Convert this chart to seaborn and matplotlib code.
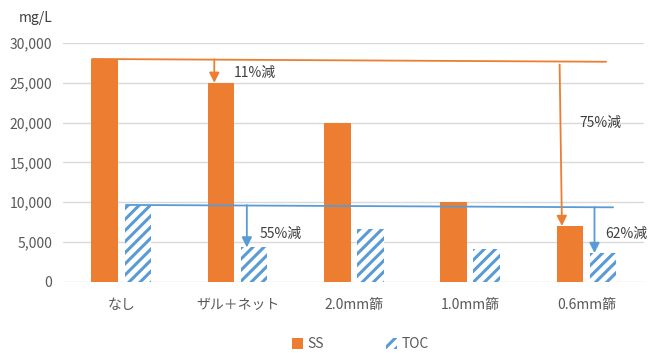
import pandas as pd
import matplotlib.pyplot as plt
import seaborn as sns
from matplotlib.patches import Patch

# data
categories = ['なし', 'ザル＋ネット', '2.0mm篩', '1.0mm篩', '0.6mm篩']
ss_values = [28000, 25000, 20000, 10000, 7000]
toc_values = [9600, 4300, 6600, 4100, 3600]
series = ['SS', 'TOC']
colors = {'SS': '#ED7D31', 'TOC': '#5B9BD5'}

df = pd.DataFrame({
    'cat': categories * 2,
    'series': ['SS'] * 5 + ['TOC'] * 5,
    'value': ss_values + toc_values,
})

sns.set_style('white')
plt.rcParams['font.family'] = ['Noto Sans CJK JP', 'DejaVu Sans']
plt.rcParams['hatch.linewidth'] = 2.2

fig = plt.figure(figsize=(6.51, 3.53), dpi=100)
ax = fig.add_axes([0.097, 0.202, 0.893, 0.676])

sns.barplot(data=df, x='cat', y='value', hue='series', palette=colors,
            width=0.57, gap=0.2, legend=False, ax=ax, saturation=1)

# TOC bars: white with blue diagonal hatch
for bar in ax.containers[1]:
    bar.set_facecolor('white')
    bar.set_edgecolor(colors['TOC'])
    bar.set_hatch('///')
    bar.set_linewidth(0)
for bar in ax.containers[0]:
    bar.set_linewidth(0)

ax.set_ylim(0, 30000)
ax.set_xlim(-0.5, 4.5)
ax.set_yticks(range(0, 30001, 5000))
ax.set_yticklabels([f'{v:,}' for v in range(0, 30001, 5000)])
ax.yaxis.grid(True, color='#d9d9d9', lw=1)
ax.set_axisbelow(True)
for s in ax.spines.values():
    s.set_visible(False)
ax.tick_params(axis='both', length=0, colors='#595959', labelsize=10)
ax.tick_params(axis='x', pad=12)
ax.tick_params(axis='y', pad=8)
ax.set_xlabel('')
ax.set_ylabel('')

# reduction lines and arrows
oc = colors['SS']
bc = colors['TOC']
ax.plot([-0.25, 4.17], [28000, 27650], color=oc, lw=1.3, zorder=4)
ax.plot([0.04, 4.23], [9650, 9350], color=bc, lw=1.3, zorder=4)

arrow_o = dict(arrowstyle='-|>', color=oc, lw=1.3, mutation_scale=15, shrinkA=0, shrinkB=0)
arrow_b = dict(arrowstyle='-|>', color=bc, lw=1.3, mutation_scale=15, shrinkA=0, shrinkB=0)
ax.annotate('', xy=(0.8, 25000), xytext=(0.8, 27950), arrowprops=arrow_o, zorder=5)
ax.annotate('', xy=(3.79, 7000), xytext=(3.77, 27300), arrowprops=arrow_o, zorder=5)
ax.annotate('', xy=(1.08, 4300), xytext=(1.08, 9620), arrowprops=arrow_b, zorder=5)
ax.annotate('', xy=(4.07, 3600), xytext=(4.07, 9370), arrowprops=arrow_b, zorder=5)

tc = '#404040'
ax.text(0.97, 26300, '11%減', color=tc, fontsize=10, va='center')
ax.text(3.94, 20000, '75%減', color=tc, fontsize=10, va='center')
ax.text(1.19, 6000, '55%減', color=tc, fontsize=10, va='center')
ax.text(4.16, 6000, '62%減', color=tc, fontsize=10, va='center')

fig.text(0.055, 0.95, 'mg/L', color='#404040', fontsize=10, ha='center', va='center')

handles = [Patch(facecolor=oc, edgecolor='none', label='SS'),
           Patch(facecolor='white', edgecolor=bc, hatch='///', linewidth=0, label='TOC')]
fig.legend(handles=handles, loc='center', bbox_to_anchor=(0.553, 0.025), ncol=2,
           frameon=False, handlelength=0.8, handleheight=0.8, columnspacing=4.5,
           handletextpad=0.3, labelcolor='#595959', fontsize=10)

fig.savefig('out.png', dpi=100)
